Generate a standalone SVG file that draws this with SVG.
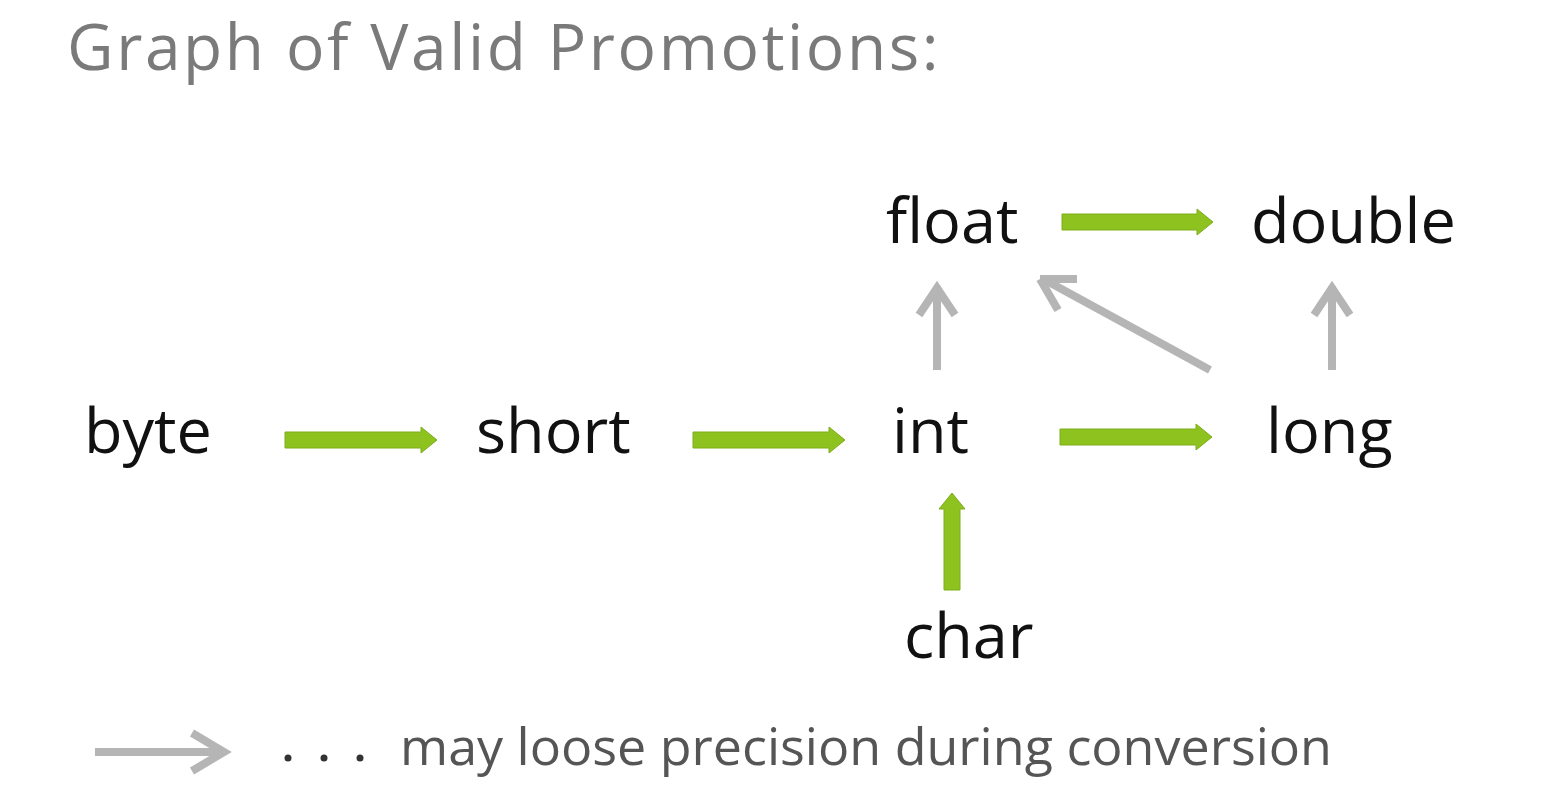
<svg xmlns="http://www.w3.org/2000/svg" width="1546" height="796" viewBox="0 0 1546 796">
<style>
.node{font-family:"Open Sans","Liberation Sans",sans-serif;font-size:63px;fill:#111}
.title{font-family:"Open Sans","Liberation Sans",sans-serif;font-size:64px;letter-spacing:2.6px;fill:#7a7a7a}
.legend{font-family:"Open Sans","Liberation Sans",sans-serif;font-size:52px;fill:#555}
.green{fill:#8dc21f;stroke:#7fae1b;stroke-width:1}
.gray{fill:none;stroke:#b5b5b5;stroke-width:8;stroke-linecap:butt;stroke-linejoin:miter}
</style>
<rect width="1546" height="796" fill="#fff"/>
<text class="title" x="67" y="70">Graph of Valid Promotions:</text>
<g id="byte"><text class="node" x="84" y="453">byte</text></g>
<g id="short"><text class="node" x="476" y="453">short</text></g>
<g id="int"><text class="node" x="892" y="453">int</text></g>
<g id="long"><text class="node" x="1266" y="453">long</text></g>
<g id="float"><text class="node" x="886" y="243">float</text></g>
<g id="double"><text class="node" x="1251" y="243">double</text></g>
<g id="char"><text class="node" x="904" y="658">char</text></g>
<g id="connectors">
<path class="green" d="M285,432 H421 V427 L437,440 L421,453 V448 H285 Z"/>
<path class="green" d="M693,432 H829 V427 L845,440 L829,453 V448 H693 Z"/>
<path class="green" d="M1060,429 H1196 V424 L1212,437 L1196,450 V445 H1060 Z"/>
<path class="green" d="M1062,214 H1197 V209 L1213,222 L1197,235 V230 H1062 Z"/>
<path class="green" d="M944,590 V509 H939 L952,493 L965,509 H960 V590 Z"/>
<path class="gray" d="M937,370 V286 M919,315 L937,288 L955,315"/>
<path class="gray" d="M1332,370 V286 M1314,315 L1332,288 L1350,315"/>
<path class="gray" d="M1210,370 L1045,280 M1040,279 L1077,279 M1040,279 L1058,310"/>
<path class="gray" d="M95,752 H222 M192,733 L224,752 L192,771"/>
</g>
<g id="legend">
<circle cx="288" cy="758" r="3.5" fill="#333"/>
<circle cx="324" cy="758" r="3.5" fill="#333"/>
<circle cx="360" cy="758" r="3.5" fill="#333"/>
<text class="legend" x="400" y="765">may loose precision during conversion</text>
</g>
</svg>
